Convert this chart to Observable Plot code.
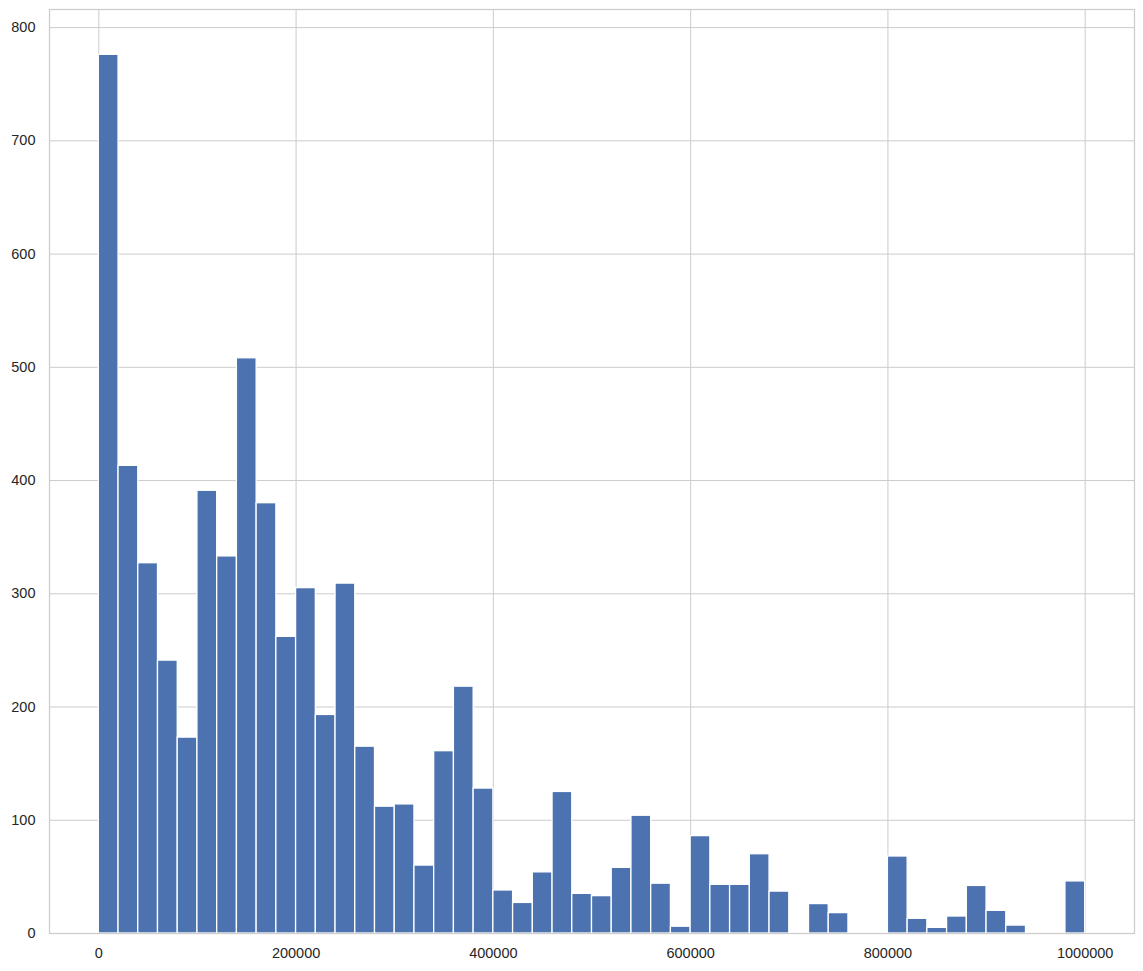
<!DOCTYPE html>
<html>
<head>
<meta charset="utf-8">
<script src="https://cdn.jsdelivr.net/npm/d3@7"></script>
<script src="https://cdn.jsdelivr.net/npm/@observablehq/plot@0.6"></script>
<style>
  html, body { margin: 0; padding: 0; background: white; }
</style>
</head>
<body>
<div id="chart"></div>
<script>
// Histogram: 50 equal bins of width 20000 from 0 to 1,000,000
const binWidth = 20000;
const counts = [
  776, 413, 327, 241, 173, 391, 333, 508, 380, 262,
  305, 193, 309, 165, 112, 114, 60, 161, 218, 128,
  38, 27, 54, 125, 35, 33, 58, 104, 44, 6,
  86, 43, 43, 70, 37, 0, 26, 18, 0, 0,
  68, 13, 5, 15, 42, 20, 7, 0, 0, 46
];
const xTicks = [0, 200000, 400000, 600000, 800000, 1000000];
const yTicks = [0, 100, 200, 300, 400, 500, 600, 700, 800];

const bins = counts.map((c, i) => ({x1: i * binWidth, x2: (i + 1) * binWidth, count: c}));

const grid = "#cccccc";
const chart = Plot.plot({
  width: 1143,
  height: 971,
  marginLeft: 49,
  marginRight: 9,
  marginTop: 9,
  marginBottom: 38,
  style: {fontFamily: "'Liberation Sans', Arial, sans-serif", fontSize: "14.5px", color: "#262626", background: "white"},
  x: {domain: [-50000, 1050000]},
  y: {domain: [0, 816]},
  marks: [
    Plot.gridX(xTicks, {stroke: grid, strokeOpacity: 1, strokeWidth: 1}),
    Plot.gridY(yTicks, {stroke: grid, strokeOpacity: 1, strokeWidth: 1}),
    Plot.rectY(bins, {x1: "x1", x2: "x2", y: "count", fill: "#4C72B0", stroke: "white", strokeWidth: 1.3, inset: 0}),
    Plot.frame({stroke: grid, strokeWidth: 1.25}),
    Plot.axisX(xTicks, {tickSize: 0, tickPadding: 14, tickFormat: d => String(d), label: null, fill: "#262626"}),
    Plot.axisY(yTicks, {tickSize: 0, tickPadding: 14, tickFormat: d => String(d), label: null, fill: "#262626"})
  ]
});
document.getElementById("chart").appendChild(chart);
</script>
</body>
</html>
